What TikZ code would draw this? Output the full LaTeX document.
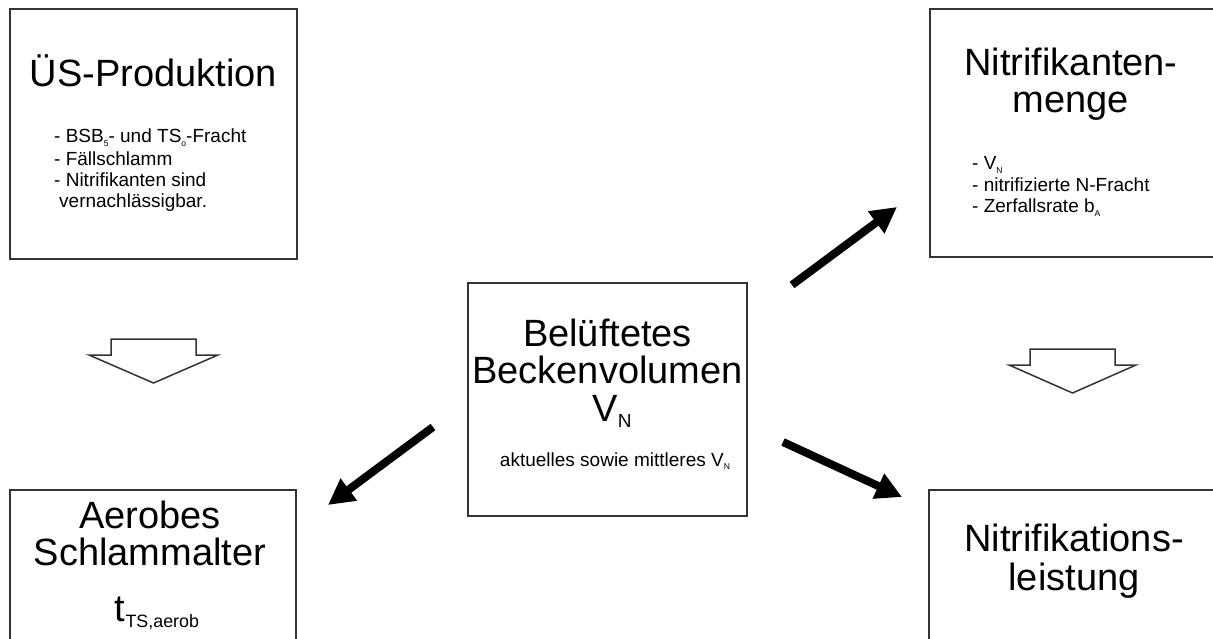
\documentclass[tikz,border=0pt]{standalone}
\usepackage{fontspec}
\setmainfont{Liberation Sans}
\usetikzlibrary{arrows.meta}
\definecolor{rahmen}{rgb}{0.2,0.2,0.2}
\newcommand{\tief}[2][0.5]{\raisebox{-0.3ex}{\scalebox{#1}{#2}}}
\newcommand{\gross}{\fontsize{38}{36}\selectfont}
\newcommand{\klein}{\fontsize{19}{22}\selectfont}

\begin{document}
\begin{tikzpicture}[x=1pt,y=-1pt,
	kasten/.style={draw=rahmen, line width=1.3pt},
	titel/.style={anchor=base, inner sep=0pt, font=\gross},
	zeile/.style={anchor=base west, inner sep=0pt, font=\klein},
	pfeil/.style={line width=8pt, -{Triangle[length=26pt,width=26pt]}},
	blockpfeil/.style={draw=rahmen, line width=1.5pt, fill=white, line join=miter}]
			\useasboundingbox (0,0) rectangle (1213,639);
			\clip (0,0) rectangle (1213,639);

			%Kaesten
			\draw[kasten] (10,9) rectangle (297,259);
			\draw[kasten] (930,9) rectangle (1225,257);
			\draw[kasten] (468,283) rectangle (747,516);
			\draw[kasten] (10,490) rectangle (296,650);
			\draw[kasten] (929,490) rectangle (1225,650);

			%UeS-Produktion
			\node[titel] (us) at (153.5,87) {ÜS-Produktion};
			\node[zeile] (us1) at (54,143) {- BSB\tief[0.45]{5}- und TS\tief[0.45]{o}-Fracht};
			\node[zeile] (us2) at (54,166) {- Fällschlamm};
			\node[zeile] (us3) at (54,187) {- Nitrifikanten sind};
			\node[zeile] (us4) at (59,208) {vernachlässigbar.};

			%Nitrifikantenmenge
			\node[titel] (nm) at (1071,76) {Nitrifikanten-};
			\node[titel] (nm0) at (1071,113) {menge};
			\node[zeile] (nm1) at (972,170) {- V\tief[0.45]{N}};
			\node[zeile] (nm2) at (972,192) {- nitrifizierte N-Fracht};
			\node[zeile] (nm3) at (972,213) {- Zerfallsrate b\tief[0.45]{A}};

			%Beckenvolumen in der Mitte
			\node[titel] (bv) at (607.5,346) {Belüftetes};
			\node[titel] (bv0) at (607.5,383) {Beckenvolumen};
			\node[titel] (vn) at (612,421) {V\tief{N}};
			\node[anchor=base, inner sep=0pt, font=\klein] (bv1) at (615,466) {aktuelles sowie mittleres V\tief[0.45]{N}};

			%Schlammalter
			\node[titel] (sa) at (150,528) {Aerobes};
			\node[titel] (sa0) at (150,565) {Schlammalter};
			\node[titel] (ts) at (157,621) {t\tief[0.47]{TS,aerob}};

			%Nitrifikationsleistung
			\node[titel] (nl) at (1074,551) {Nitrifikations-};
			\node[titel] (nl0) at (1074,590) {leistung};

			%Blockpfeile nach unten
			\draw[blockpfeil] (111,339) -- (196,339) -- (196,355) -- (218,355) -- (153.5,383) -- (89,355) -- (111,355) -- cycle;
			\draw[blockpfeil] (1030,349) -- (1115,349) -- (1115,365) -- (1136,365) -- (1072.5,393) -- (1009,365) -- (1030,365) -- cycle;

			%Pfeile vom Becken
			\coordinate (bv-o) at (792,285);
			\coordinate (nm-e) at (897,207);
			\coordinate (bv-u) at (783,442);
			\coordinate (nl-e) at (902,497);
			\coordinate (bv-l) at (433,427);
			\coordinate (sa-e) at (328,505);
			\draw[pfeil] (bv-o) -- (nm-e);
			\draw[pfeil] (bv-u) -- (nl-e);
			\draw[pfeil] (bv-l) -- (sa-e);
\end{tikzpicture}
\end{document}
